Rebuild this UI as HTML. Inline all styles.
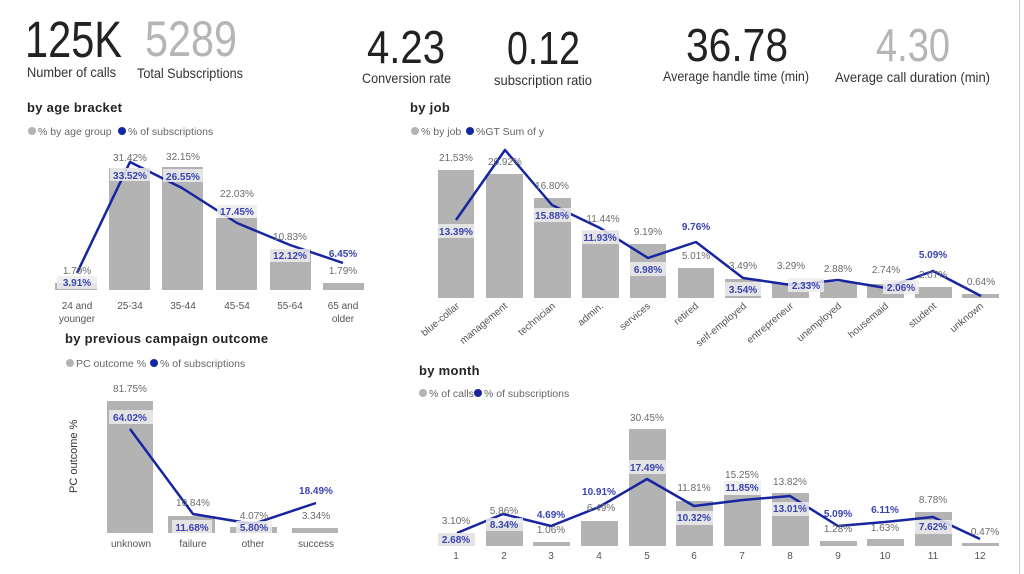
<!DOCTYPE html>
<html><head><meta charset="utf-8"><style>
html,body{margin:0;padding:0;background:#fff;}
svg{display:block;font-family:"Liberation Sans",sans-serif;}
.t{font-size:13px;fill:#252423;font-weight:bold;letter-spacing:.3px}
.lg{font-size:10.5px;fill:#666}
.g{font-size:10px;fill:#6b6b6b;text-anchor:middle}
.b{font-size:10px;fill:#3a44b0;font-weight:bold;text-anchor:middle}
.x{font-size:10px;fill:#555;text-anchor:middle}
.bar{fill:#b3b3b3}
.ln{fill:none;stroke:#1726a0;stroke-width:2.5;stroke-linejoin:round}
.bx{fill:rgba(236,236,236,0.85)}
</style></head><body>
<svg width="1024" height="574" viewBox="0 0 1024 574">
<line x1="1019.5" y1="0" x2="1019.5" y2="574" stroke="#ccc"/>
<!-- KPIs -->
<g>
<text x="25" y="57" font-size="51" fill="#222" textLength="97" lengthAdjust="spacingAndGlyphs">125K</text>
<text x="145" y="56" font-size="50" fill="#b5b5b5" textLength="92" lengthAdjust="spacingAndGlyphs">5289</text>
<text x="27" y="77" font-size="14" fill="#333" textLength="89" lengthAdjust="spacingAndGlyphs">Number of calls</text>
<text x="137" y="78" font-size="14" fill="#333" textLength="106" lengthAdjust="spacingAndGlyphs">Total Subscriptions</text>
<text x="367" y="63" font-size="46" fill="#222" textLength="78" lengthAdjust="spacingAndGlyphs">4.23</text>
<text x="507" y="64" font-size="46" fill="#222" textLength="73" lengthAdjust="spacingAndGlyphs">0.12</text>
<text x="362" y="83" font-size="14" fill="#333" textLength="89" lengthAdjust="spacingAndGlyphs">Conversion rate</text>
<text x="494" y="85" font-size="14" fill="#333" textLength="98" lengthAdjust="spacingAndGlyphs">subscription ratio</text>
<text x="686" y="61" font-size="46" fill="#222" textLength="102" lengthAdjust="spacingAndGlyphs">36.78</text>
<text x="876" y="61" font-size="46" fill="#b5b5b5" textLength="74" lengthAdjust="spacingAndGlyphs">4.30</text>
<text x="663" y="81" font-size="14" fill="#333" textLength="146" lengthAdjust="spacingAndGlyphs">Average handle time (min)</text>
<text x="835" y="82" font-size="14" fill="#333" textLength="155" lengthAdjust="spacingAndGlyphs">Average call duration (min)</text>
</g>

<!-- Age chart -->
<text class="t" x="27" y="112">by age bracket</text>
<circle cx="32" cy="131" r="4" fill="#b3b3b3"/><text class="lg" x="38" y="135">% by age group</text>
<circle cx="122" cy="131" r="4" fill="#1726a0"/><text class="lg" x="128" y="135">% of subscriptions</text>
<rect class="bar" x="55" y="283" width="42" height="7"/>
<rect class="bar" x="109" y="168" width="41" height="122"/>
<rect class="bar" x="162" y="167" width="41" height="123"/>
<rect class="bar" x="216" y="218" width="41" height="72"/>
<rect class="bar" x="270" y="249" width="41" height="41"/>
<rect class="bar" x="323" y="283" width="41" height="7"/>
<polyline class="ln" points="77,273 130,162 182,188 237,223 290,245 343,263"/>
<g>
<rect class="bx" x="57" y="276" width="40" height="13"/>
<rect class="bx" x="110" y="168" width="40" height="13"/>
<rect class="bx" x="163" y="169" width="40" height="13"/>
<rect class="bx" x="217" y="205" width="40" height="13"/>
<rect class="bx" x="270" y="249" width="40" height="13"/>
</g>
<text class="g" x="77" y="274">1.79%</text><text class="b" x="77" y="286">3.91%</text>
<text class="g" x="130" y="161">31.42%</text><text class="b" x="130" y="179">33.52%</text>
<text class="g" x="183" y="160">32.15%</text><text class="b" x="183" y="180">26.55%</text>
<text class="g" x="237" y="197">22.03%</text><text class="b" x="237" y="215">17.45%</text>
<text class="g" x="290" y="240">10.83%</text><text class="b" x="290" y="259">12.12%</text>
<text class="b" x="343" y="257">6.45%</text><text class="g" x="343" y="274">1.79%</text>
<text class="x" x="77" y="309">24 and</text><text class="x" x="77" y="322">younger</text>
<text class="x" x="130" y="309">25-34</text><text class="x" x="183" y="309">35-44</text>
<text class="x" x="237" y="309">45-54</text><text class="x" x="290" y="309">55-64</text>
<text class="x" x="343" y="309">65 and</text><text class="x" x="343" y="322">older</text>

<!-- Prev campaign -->
<text class="t" x="65" y="343">by previous campaign outcome</text>
<circle cx="70" cy="363" r="4" fill="#b3b3b3"/><text class="lg" x="76" y="367">PC outcome %</text>
<circle cx="154" cy="363" r="4" fill="#1726a0"/><text class="lg" x="160" y="367">% of subscriptions</text>
<text x="0" y="0" font-size="11" fill="#333" transform="translate(77,493) rotate(-90)">PC outcome %</text>
<rect class="bar" x="107" y="401" width="46" height="132"/>
<rect class="bar" x="168" y="516" width="47" height="17"/>
<rect class="bar" x="230" y="527" width="47" height="6"/>
<rect class="bar" x="292" y="528" width="46" height="5"/>
<polyline class="ln" points="130,429 193,514 253,524 316,503"/>
<rect class="bx" x="109" y="410" width="44" height="14"/>
<rect class="bx" x="172" y="520" width="40" height="13"/>
<rect class="bx" x="236" y="521" width="36" height="12"/>
<text class="g" x="130" y="392">81.75%</text><text class="b" x="130" y="421">64.02%</text>
<text class="g" x="193" y="506">10.84%</text><text class="b" x="192" y="531">11.68%</text>
<text class="g" x="254" y="519">4.07%</text><text class="b" x="254" y="531">5.80%</text>
<text class="b" x="316" y="494">18.49%</text><text class="g" x="316" y="519">3.34%</text>
<text class="x" x="131" y="547">unknown</text><text class="x" x="193" y="547">failure</text>
<text class="x" x="253" y="547">other</text><text class="x" x="316" y="547">success</text>

<!-- Job chart -->
<text class="t" x="410" y="112">by job</text>
<circle cx="415" cy="131" r="4" fill="#b3b3b3"/><text class="lg" x="421" y="135">% by job</text>
<circle cx="470" cy="131" r="4" fill="#1726a0"/><text class="lg" x="476" y="135">%GT Sum of y</text>
<g>
<rect class="bar" x="438" y="170" width="36" height="128"/>
<rect class="bar" x="486" y="174" width="37" height="124"/>
<rect class="bar" x="534" y="198" width="37" height="100"/>
<rect class="bar" x="582" y="231" width="37" height="67"/>
<rect class="bar" x="630" y="244" width="36" height="54"/>
<rect class="bar" x="678" y="268" width="36" height="30"/>
<rect class="bar" x="725" y="279" width="36" height="19"/>
<rect class="bar" x="772" y="283" width="37" height="15"/>
<rect class="bar" x="820" y="282" width="37" height="16"/>
<rect class="bar" x="867" y="284" width="37" height="14"/>
<rect class="bar" x="915" y="287" width="37" height="11"/>
<rect class="bar" x="962" y="294" width="37" height="4"/>
</g>
<polyline class="ln" points="456,220 505,150 552,205 600,228 648,258 696,242 743,278 791,285 838,280 886,288 933,271 981,296"/>
<rect class="bx" x="438" y="224" width="36" height="14"/>
<rect class="bx" x="534" y="208" width="37" height="14"/>
<rect class="bx" x="582" y="230" width="37" height="14"/>
<rect class="bx" x="630" y="262" width="36" height="14"/>
<rect class="bx" x="725" y="282" width="36" height="14"/>
<rect class="bx" x="788" y="278" width="36" height="14"/>
<rect class="bx" x="883" y="280" width="36" height="14"/>
<text class="g" x="456" y="161">21.53%</text><text class="b" x="456" y="235">13.39%</text>
<text class="g" x="505" y="165">20.92%</text>
<text class="g" x="552" y="189">16.80%</text><text class="b" x="552" y="219">15.88%</text>
<text class="g" x="603" y="222">11.44%</text><text class="b" x="600" y="241">11.93%</text>
<text class="g" x="648" y="235">9.19%</text><text class="b" x="648" y="273">6.98%</text>
<text class="b" x="696" y="230">9.76%</text><text class="g" x="696" y="259">5.01%</text>
<text class="g" x="743" y="269">3.49%</text><text class="b" x="743" y="293">3.54%</text>
<text class="g" x="791" y="269">3.29%</text><text class="b" x="806" y="289">2.33%</text>
<text class="g" x="838" y="272">2.88%</text>
<text class="g" x="886" y="273">2.74%</text><text class="b" x="901" y="291">2.06%</text>
<text class="b" x="933" y="258">5.09%</text><text class="g" x="933" y="278">2.07%</text>
<text class="g" x="981" y="285">0.64%</text>
<g font-size="10" fill="#555" text-anchor="end">
<text transform="translate(460,307) rotate(-40)">blue-collar</text>
<text transform="translate(508,307) rotate(-40)">management</text>
<text transform="translate(556,307) rotate(-40)">technician</text>
<text transform="translate(604,307) rotate(-40)">admin.</text>
<text transform="translate(651,307) rotate(-40)">services</text>
<text transform="translate(699,307) rotate(-40)">retired</text>
<text transform="translate(747,307) rotate(-40)">self-employed</text>
<text transform="translate(794,307) rotate(-40)">entrepreneur</text>
<text transform="translate(842,307) rotate(-40)">unemployed</text>
<text transform="translate(889,307) rotate(-40)">housemaid</text>
<text transform="translate(937,307) rotate(-40)">student</text>
<text transform="translate(984,307) rotate(-40)">unknown</text>
</g>

<!-- Month chart -->
<text class="t" x="419" y="375">by month</text>
<circle cx="423" cy="393" r="4" fill="#b3b3b3"/><text class="lg" x="429" y="397">% of calls</text>
<circle cx="478" cy="393" r="4" fill="#1726a0"/><text class="lg" x="484" y="397">% of subscriptions</text>
<g>
<rect class="bar" x="438" y="533" width="37" height="13"/>
<rect class="bar" x="486" y="523" width="37" height="23"/>
<rect class="bar" x="533" y="542" width="37" height="4"/>
<rect class="bar" x="581" y="521" width="37" height="25"/>
<rect class="bar" x="629" y="429" width="37" height="117"/>
<rect class="bar" x="676" y="501" width="37" height="45"/>
<rect class="bar" x="724" y="495" width="37" height="51"/>
<rect class="bar" x="772" y="493" width="37" height="53"/>
<rect class="bar" x="820" y="541" width="37" height="5"/>
<rect class="bar" x="867" y="539" width="37" height="7"/>
<rect class="bar" x="915" y="512" width="37" height="34"/>
<rect class="bar" x="962" y="543" width="37" height="3"/>
</g>
<polyline class="ln" points="457,533 503,514 551,526 599,507 647,479 694,506 743,500 790,496 838,526 885,522 933,517 980,539"/>
<rect class="bx" x="438" y="533" width="37" height="13"/>
<rect class="bx" x="486" y="518" width="37" height="13"/>
<rect class="bx" x="629" y="460" width="37" height="14"/>
<rect class="bx" x="676" y="511" width="37" height="14"/>
<rect class="bx" x="724" y="481" width="37" height="14"/>
<rect class="bx" x="772" y="502" width="37" height="14"/>
<rect class="bx" x="915" y="520" width="37" height="14"/>
<text class="g" x="456" y="524">3.10%</text><text class="b" x="456" y="543">2.68%</text>
<text class="g" x="504" y="514">5.86%</text><text class="b" x="504" y="528">8.34%</text>
<text class="b" x="551" y="518">4.69%</text><text class="g" x="551" y="533">1.06%</text>
<text class="b" x="599" y="495">10.91%</text><text class="g" x="601" y="511">6.49%</text>
<text class="g" x="647" y="421">30.45%</text><text class="b" x="647" y="471">17.49%</text>
<text class="g" x="694" y="491">11.81%</text><text class="b" x="694" y="521">10.32%</text>
<text class="g" x="742" y="478">15.25%</text><text class="b" x="742" y="491">11.85%</text>
<text class="g" x="790" y="485">13.82%</text><text class="b" x="790" y="512">13.01%</text>
<text class="b" x="838" y="517">5.09%</text><text class="g" x="838" y="532">1.28%</text>
<text class="b" x="885" y="513">6.11%</text><text class="g" x="885" y="531">1.63%</text>
<text class="g" x="933" y="503">8.78%</text><text class="b" x="933" y="530">7.62%</text>
<text class="g" x="985" y="535">0.47%</text>
<g>
<text class="x" x="456" y="559">1</text><text class="x" x="504" y="559">2</text><text class="x" x="551" y="559">3</text>
<text class="x" x="599" y="559">4</text><text class="x" x="647" y="559">5</text><text class="x" x="694" y="559">6</text>
<text class="x" x="742" y="559">7</text><text class="x" x="790" y="559">8</text><text class="x" x="838" y="559">9</text>
<text class="x" x="885" y="559">10</text><text class="x" x="933" y="559">11</text><text class="x" x="980" y="559">12</text>
</g>
</svg>
</body></html>
